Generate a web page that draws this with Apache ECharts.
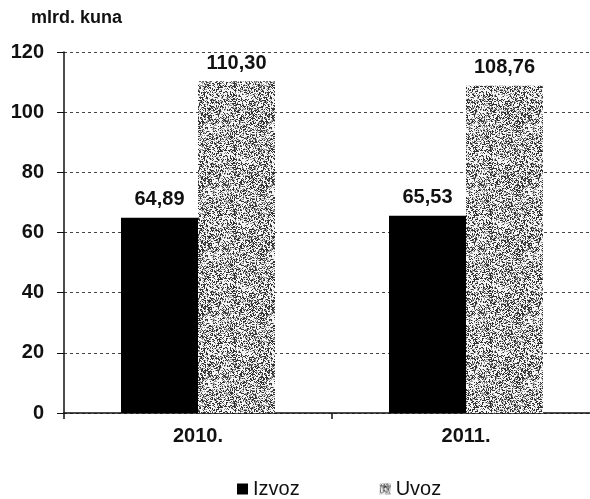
<!DOCTYPE html>
<html>
<head>
<meta charset="utf-8">
<script src="https://cdn.jsdelivr.net/npm/echarts@6/dist/echarts.min.js"></script>
<style>
html,body{margin:0;padding:0;background:#fff;overflow:hidden;}
#c{width:600px;height:499px;}
</style>
</head>
<body>
<div id="c"></div>
<script>
var categories = ['2010.', '2011.'];
var izvoz = [64.89, 65.53];
var uvoz = [110.30, 108.76];
var seriesNames = ['Izvoz', 'Uvoz'];
var yTicks = [0, 20, 40, 60, 80, 100, 120];

function makeNoise() {
  var cv = document.createElement('canvas');
  cv.width = 64; cv.height = 64;
  var ctx = cv.getContext('2d');
  var img = ctx.createImageData(64, 64);
  var s = 98765;
  for (var i = 0; i < 64 * 64; i++) {
    s = (s * 1103515245 + 12345) & 0x7fffffff;
    var r = (s >> 8) % 100;
    var v = r < 30 ? 50 : (r < 48 ? 150 : 245);
    img.data[i*4] = v; img.data[i*4+1] = v; img.data[i*4+2] = v; img.data[i*4+3] = 255;
  }
  ctx.putImageData(img, 0, 0);
  return cv;
}
var noise = makeNoise();

var FF = 'Liberation Sans, Arial, sans-serif';
var chart = echarts.init(document.getElementById('c'));
var fmt = function (p) { return p.value.toFixed(2).replace('.', ','); };
chart.setOption({
  animation: false,
  backgroundColor: '#fff',
  textStyle: { fontFamily: FF },
  title: {
    text: 'mlrd. kuna', left: 31, top: 9, padding: 0,
    textStyle: { fontSize: 18, fontWeight: 'bold', color: '#111', fontFamily: FF }
  },
  legend: {
    bottom: -5, left: 232, itemGap: 80, itemWidth: 11, itemHeight: 11,
    icon: 'rect',
    textStyle: { fontSize: 20, color: '#111', padding: [0, 0, 0, 0] },
    data: seriesNames
  },
  grid: { left: 64, right: 0, top: 52, bottom: 86, containLabel: false },
  xAxis: {
    type: 'category', data: categories,
    axisLine: { lineStyle: { color: '#111', width: 1.5 } },
    axisTick: { show: true, length: 6, lineStyle: { color: '#111', width: 1.5 } },
    axisLabel: { margin: 13, color: '#111', fontSize: 20, fontWeight: 'bold' }
  },
  yAxis: {
    type: 'value', min: 0, max: 120, interval: 20,
    axisLine: { show: true, lineStyle: { color: '#111', width: 1.5 } },
    axisTick: { show: true, length: 7, lineStyle: { color: '#111' } },
    axisLabel: { margin: 20, color: '#111', fontSize: 20, fontWeight: 'bold',
      formatter: function (v) { return yTicks.indexOf(v) >= 0 ? String(v) : ''; } },
    splitLine: { show: true, lineStyle: { color: '#444', type: [3, 3], width: 1 } }
  },
  series: [
    {
      name: seriesNames[0], type: 'bar', data: izvoz, barWidth: 77, barGap: '0%',
      itemStyle: { color: '#000' },
      label: { show: true, position: 'top', distance: 8, formatter: fmt, color: '#111', fontSize: 20, fontWeight: 'bold' }
    },
    {
      name: seriesNames[1], type: 'bar', data: uvoz, barWidth: 77, barGap: '0%',
      itemStyle: { color: { image: noise, repeat: 'repeat' } },
      label: { show: true, position: 'top', distance: 8, formatter: fmt, color: '#111', fontSize: 20, fontWeight: 'bold' }
    }
  ]
});
</script>
</body>
</html>
